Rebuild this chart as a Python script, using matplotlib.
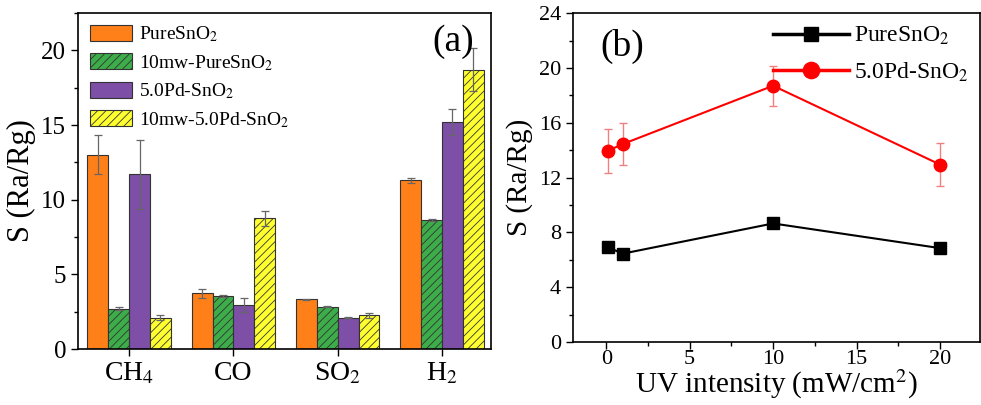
import numpy as np
import matplotlib.pyplot as plt
from matplotlib.ticker import MultipleLocator

plt.rcParams['font.family'] = ['Liberation Serif', 'DejaVu Serif']
plt.rcParams['mathtext.fontset'] = 'stix'
plt.rcParams['hatch.linewidth'] = 0.6

# panel (a) data
gases = [r'CH$_4$', 'CO', r'SO$_2$', r'H$_2$']
names_a = [r'PureSnO$_2$', r'10mw-PureSnO$_2$', r'5.0Pd-SnO$_2$', r'10mw-5.0Pd-SnO$_2$']
pure = [13.0, 3.75, 3.35, 11.3]
pure_err = [1.3, 0.3, 0.03, 0.15]
uv_pure = [2.7, 3.55, 2.85, 8.65]
uv_pure_err = [0.1, 0.07, 0.05, 0.05]
pd = [11.7, 2.95, 2.1, 15.2]
pd_err = [2.3, 0.45, 0.03, 0.85]
uv_pd = [2.1, 8.75, 2.25, 18.7]
uv_pd_err = [0.15, 0.5, 0.15, 1.45]

# panel (b) data
uv = [0.1, 1, 10, 20]
s_pure = [6.9, 6.45, 8.65, 6.85]
s_pd = [13.95, 14.45, 18.7, 12.95]
s_pd_err = [1.6, 1.55, 1.45, 1.6]

colors = ['#FF8019', '#3DAD4A', '#7D4FA6', '#FFFF30']
hatches = [None, '////', None, '////']

fig = plt.figure(figsize=(9.81, 4.05), dpi=100)
ax1 = fig.add_axes([0.0795, 0.138, 0.421, 0.830])
ax2 = fig.add_axes([0.584, 0.1556, 0.415, 0.812])

x = np.arange(1, 5)
w = 0.2
series = [(pure, pure_err), (uv_pure, uv_pure_err), (pd, pd_err), (uv_pd, uv_pd_err)]
for i, (vals, errs) in enumerate(series):
    ax1.bar(x + (i - 1.5) * w, vals, w, color=colors[i], edgecolor='#333333',
            linewidth=0.8, hatch=hatches[i], label=names_a[i],
            yerr=errs, error_kw=dict(ecolor='#666666', elinewidth=0.9, capsize=3, capthick=0.9))

ax1.set_xlim(0.51, 4.47)
ax1.set_ylim(0, 22.5)
ax1.set_xticks(x)
ax1.set_xticklabels(gases, fontsize=20)
ax1.yaxis.set_major_locator(MultipleLocator(5))
ax1.yaxis.set_minor_locator(MultipleLocator(2.5))
ax1.tick_params(axis='y', labelsize=18)
ax1.set_ylabel('S (Ra/Rg)', fontsize=22, labelpad=4)
ax1.text(0.96, 0.915, '(a)', transform=ax1.transAxes, fontsize=27, ha='right', va='center')
ax1.legend(loc='upper left', fontsize=14, frameon=False, handlelength=2.2, handleheight=0.9,
           borderaxespad=0.2, labelspacing=0.45, handletextpad=0.35, bbox_to_anchor=(0.0, 1.0))

ax2.plot(uv, s_pure, '-s', color='black', lw=1.5, ms=8, label=r'PureSnO$_2$')
ax2.errorbar(uv, s_pd, yerr=s_pd_err, fmt='none', ecolor='#F08080', elinewidth=1, capsize=3)
ax2.plot(uv, s_pd, '-o', color='#FF0000', lw=1.5, ms=9, label=r'5.0Pd-SnO$_2$')
ax2.set_xlim(-2, 22.4)
ax2.set_ylim(0, 24)
ax2.xaxis.set_major_locator(MultipleLocator(5))
ax2.xaxis.set_minor_locator(MultipleLocator(2.5))
ax2.yaxis.set_major_locator(MultipleLocator(4))
ax2.yaxis.set_minor_locator(MultipleLocator(2))
ax2.tick_params(labelsize=16)
ax2.tick_params(axis='x', pad=1)
ax2.set_xlabel(r'UV intensity (mW/cm$^2$)', fontsize=21, labelpad=-1)
ax2.set_ylabel('S (Ra/Rg)', fontsize=21, labelpad=4)
ax2.text(0.12, 0.9, '(b)', transform=ax2.transAxes, fontsize=27, ha='center', va='center')
leg = ax2.legend(loc='upper right', fontsize=17, frameon=False, handlelength=3.2,
                 borderaxespad=0.1, labelspacing=0.55, handletextpad=0.2, markerscale=1.3)
for ln in leg.get_lines():
    ln.set_linewidth(2.5)

for ax in (ax1, ax2):
    for sp in ax.spines.values():
        sp.set_linewidth(1.2)
    ax.tick_params(which='major', direction='out', length=5, width=1)
    ax.tick_params(which='minor', direction='out', length=3, width=1)
ax1.tick_params(axis='x', which='minor', bottom=False)

fig.savefig('out.png', dpi=100)
